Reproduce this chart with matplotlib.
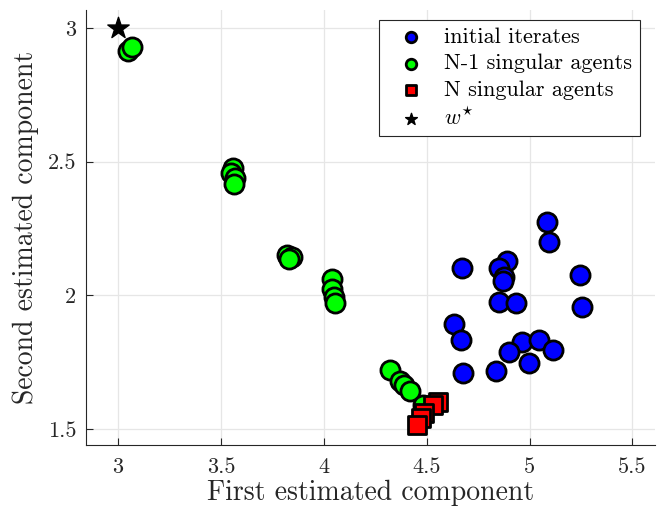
import matplotlib
matplotlib.use("Agg")
import matplotlib.pyplot as plt

plt.rcParams['font.family'] = 'serif'
plt.rcParams['font.serif'] = ['cmr10']
plt.rcParams['mathtext.fontset'] = 'cm'
plt.rcParams['axes.formatter.use_mathtext'] = True
plt.rcParams['axes.unicode_minus'] = False

# initial iterates of the agents
init_x = [5.085, 5.096, 4.890, 4.853, 4.670, 4.874, 4.869, 5.244, 4.850, 4.936,
          5.255, 4.631, 4.667, 4.963, 5.044, 4.902, 5.114, 4.996, 4.679, 4.838]
init_y = [2.276, 2.199, 2.129, 2.104, 2.104, 2.070, 2.054, 2.075, 1.976, 1.973,
          1.958, 1.892, 1.833, 1.827, 1.831, 1.787, 1.796, 1.746, 1.709, 1.715]

# iterates with N-1 singular agents
n1_x = [3.050, 3.065, 3.560, 3.550, 3.570, 3.565, 3.820, 3.845, 3.830,
        4.040, 4.040, 4.050, 4.055, 4.320, 4.370, 4.390, 4.420, 4.480]
n1_y = [2.915, 2.930, 2.476, 2.457, 2.440, 2.415, 2.150, 2.145, 2.135,
        2.060, 2.025, 1.995, 1.970, 1.720, 1.680, 1.665, 1.640, 1.590]

# iterates with N singular agents
n_x = [4.556, 4.532, 4.488, 4.474, 4.454]
n_y = [1.600, 1.590, 1.560, 1.540, 1.515]

# optimum
w_star = (3.0, 3.0)

fig = plt.figure(figsize=(6.67, 5.12), dpi=100)
ax = fig.add_axes([0.129, 0.131, 0.853, 0.849])

ax.scatter(init_x, init_y, s=190, c='#0000ff', edgecolors='black', linewidths=2.0,
           label='initial iterates', zorder=3)
ax.scatter(n1_x, n1_y, s=190, c='#00ff00', edgecolors='black', linewidths=2.0,
           label='N-1 singular agents', zorder=3)
ax.scatter(n_x, n_y, s=150, c='#ff0000', marker='s', edgecolors='black', linewidths=2.0,
           label='N singular agents', zorder=4)
ax.scatter([w_star[0]], [w_star[1]], s=260, c='black', marker='*',
           label=r'$w^{\star}$', zorder=2)

ax.set_xlim(2.844, 5.61)
ax.set_ylim(1.44, 3.067)
ax.set_xticks([3, 3.5, 4, 4.5, 5, 5.5])
ax.set_xticklabels(['3', '3.5', '4', '4.5', '5', '5.5'])
ax.set_yticks([1.5, 2, 2.5, 3])
ax.set_yticklabels(['1.5', '2', '2.5', '3'])
ax.tick_params(direction='in', length=5, labelsize=16, colors='#262626')
ax.tick_params(axis='x', pad=9)
ax.tick_params(axis='y', pad=7)
ax.grid(True, color='#e6e6e6', linewidth=0.9, zorder=0)
ax.set_axisbelow(True)
for side in ['top', 'right']:
    ax.spines[side].set_visible(False)
for side in ['left', 'bottom']:
    ax.spines[side].set_color('#262626')
    ax.spines[side].set_linewidth(0.8)

ax.set_xlabel('First estimated component', fontsize=20, color='#262626', labelpad=2)
ax.set_ylabel('Second estimated component', fontsize=20, color='#262626', labelpad=6)

leg = ax.legend(loc='upper right', fontsize=16, markerscale=0.55, fancybox=False,
                edgecolor='#262626', framealpha=1, handletextpad=0.4,
                borderpad=0.35, labelspacing=0.3, handlelength=2.2,
                borderaxespad=0, bbox_to_anchor=(0.974, 0.978))
leg.get_frame().set_linewidth(0.8)

fig.savefig('out.png', dpi=100)
